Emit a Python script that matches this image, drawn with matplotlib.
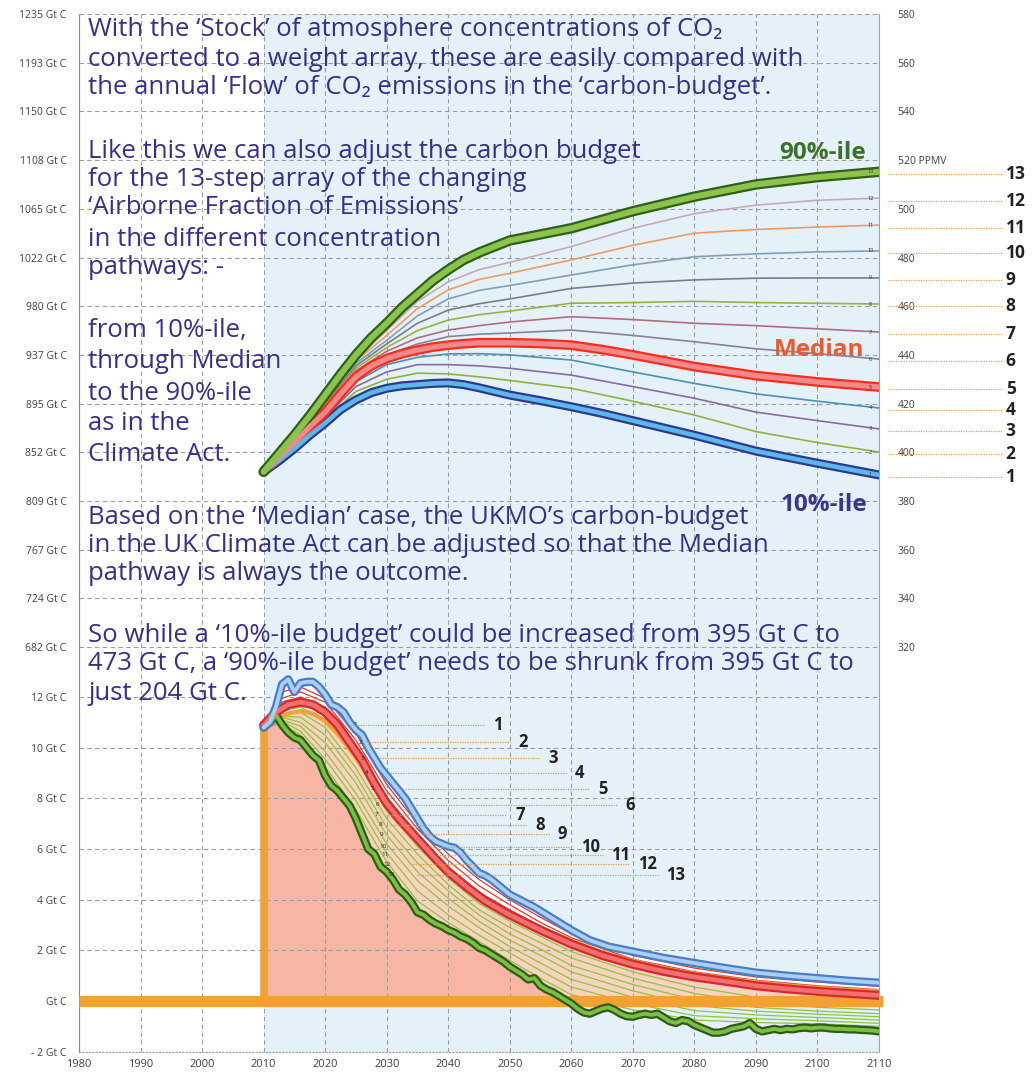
import matplotlib
matplotlib.use('Agg')
import matplotlib.pyplot as plt
import numpy as np
from matplotlib.lines import Line2D
from matplotlib.ticker import FuncFormatter

plt.rcParams['font.family'] = ['Open Sans', 'DejaVu Sans']

# ---- concentration pathways (ppmv), upper chart ----
conc_years_thick = [2010, 2012.5, 2015, 2017.5, 2020, 2022.5, 2025, 2027.5, 2030, 2032.5, 2035, 2037.5,
                    2040, 2042.5, 2045, 2050, 2055, 2060, 2065, 2070, 2080, 2090, 2100, 2110]
conc_p90 = [392, 399.5, 407, 415, 423.5, 432, 440, 447, 453, 459.5, 465, 470.5,
            475, 479, 482, 487, 489.5, 492, 495.5, 499, 505, 510, 513, 515.2]
conc_median = [392, 398, 404, 410.5, 416.5, 424, 431, 435.5, 438.5, 440.5, 442, 443.2,
               444, 444.6, 445, 445, 444.7, 444, 442.2, 440, 435.2, 431.5, 428.9, 426.8]
conc_p10 = [392, 396.5, 401.5, 407, 412, 417.5, 421.5, 424.5, 426.3, 427.3, 427.8, 428.3,
            428.5, 427.8, 426.5, 423.5, 421.2, 418.7, 416, 413, 407, 400.5, 395.5, 390.7]

conc_years = [2010, 2015, 2020, 2025, 2030, 2035, 2040, 2045, 2050, 2060, 2070, 2080, 2090, 2100, 2110]
conc_12 = [392, 406.5, 422.5, 438.5, 450, 462, 470, 475, 478, 484.5, 492, 498, 501.5, 503.5, 504.4]
conc_11 = [392, 406.3, 422, 437.5, 448, 459, 466.7, 471, 473.5, 479, 485, 490, 491.5, 492.5, 493.3]
conc_10 = [392, 406, 421.5, 436.5, 446, 456, 463, 466.5, 468.5, 472.8, 477, 480.3, 481.5, 482.3, 482.7]
conc_9 = [392, 405.7, 420.5, 435.5, 444.5, 453, 458.4, 461, 463, 467.3, 469.5, 470.8, 471.5, 471.6, 471.6]
conc_8 = [392, 405.3, 420, 434.5, 443, 450, 454.3, 456.5, 458, 461.2, 461.5, 462, 461.5, 461.2, 460.9]
conc_7 = [392, 405, 419, 433.5, 441.5, 447, 450.2, 452, 453.5, 455.7, 454.5, 453, 452, 450.7, 449.4]
conc_6 = [392, 404.5, 418, 432.5, 440, 444.5, 447.5, 448.5, 449, 450.2, 448, 445.4, 442.5, 440.5, 438.3]
conc_4 = [392, 403.5, 415.5, 429, 436, 439, 440.4, 440.5, 440, 437.9, 433, 428.3, 424, 421, 418.2]
conc_3 = [392, 403, 414.5, 427, 433, 436, 436, 435.5, 434.5, 431.7, 427, 422.2, 416.5, 413, 409.6]
conc_2 = [392, 402.3, 413.5, 425, 430, 432.5, 432.2, 431, 429.5, 426.3, 421, 415.3, 408.5, 404, 400.1]

# ---- annual emissions (Gt C), lower chart ----
em_p10_years = list(range(2010, 2051)) + [2052, 2054, 2056, 2058, 2060, 2063, 2066, 2070, 2075,
                                          2080, 2085, 2090, 2095, 2100, 2105, 2110]
em_p10 = [10.8, 11.0, 11.6, 12.5, 12.7, 12.2, 12.55, 12.6, 12.6, 12.4,
          12.1, 11.7, 11.6, 11.4, 11.0, 10.7, 10.5, 10.0, 9.6, 9.2,
          8.9, 8.6, 8.3, 8.0, 7.6, 7.2, 6.8, 6.5, 6.3, 6.2,
          6.1, 6.05, 5.85, 5.55, 5.3, 5.05, 4.95, 4.8, 4.6, 4.4,
          4.2, 3.95, 3.7, 3.4, 3.1, 2.8, 2.4, 2.15, 1.95, 1.7,
          1.5, 1.3, 1.12, 1.0, 0.9, 0.8, 0.72]

em_median_years = [2010, 2012, 2014, 2016, 2018, 2020, 2022, 2024, 2026, 2028, 2030, 2032, 2035, 2038, 2040,
                   2043, 2046, 2050, 2055, 2060, 2065, 2070, 2075, 2080, 2085, 2090, 2095, 2100, 2105, 2110]
em_median = [10.9, 11.4, 11.7, 11.8, 11.7, 11.4, 10.9, 10.2, 9.5, 8.6, 7.8, 7.2, 6.4, 5.6, 5.1,
             4.5, 3.95, 3.4, 2.8, 2.25, 1.8, 1.45, 1.17, 0.95, 0.78, 0.6, 0.48, 0.38, 0.3, 0.22]
em_budget = [10.8, 11.1, 11.35, 11.45, 11.35, 11.05, 10.55, 9.95, 9.25, 8.45, 7.75, 7.15, 6.4, 5.65, 5.15,
             4.6, 4.05, 3.5, 2.9, 2.38, 1.93, 1.58, 1.3, 1.07, 0.9, 0.74, 0.62, 0.52, 0.44, 0.38]

em_p90_years = list(range(2010, 2111))
em_p90 = [10.8, 11.0, 11.3, 10.9, 10.6, 10.4, 10.3, 10.0, 9.7, 9.5,
          8.9, 8.5, 8.3, 8.0, 7.7, 7.2, 6.6, 6.0, 5.8, 5.3,
          5.1, 4.8, 4.4, 4.2, 3.9, 3.5, 3.4, 3.2, 3.05, 2.95,
          2.8, 2.7, 2.55, 2.45, 2.3, 2.1, 2.0, 1.85, 1.7, 1.55,
          1.35, 1.2, 1.05, 0.85, 0.9, 0.6, 0.45, 0.35, 0.2, 0.05,
          -0.1, -0.3, -0.45, -0.5, -0.4, -0.3, -0.25, -0.35, -0.5, -0.6,
          -0.62, -0.55, -0.5, -0.55, -0.5, -0.65, -0.8, -0.87, -0.75, -0.8,
          -0.95, -1.05, -1.15, -1.25, -1.25, -1.2, -1.1, -1.05, -1.0, -0.87,
          -1.1, -1.2, -1.15, -1.1, -1.15, -1.1, -1.12, -1.07, -1.05, -1.08,
          -1.05, -1.05, -1.08, -1.1, -1.1, -1.12, -1.12, -1.14, -1.15, -1.17, -1.2]

em_thin_years = [2010, 2013, 2016, 2020, 2025, 2030, 2035, 2040, 2045, 2050, 2055, 2060, 2070, 2080, 2090, 2100, 2110]
em_2 = [10.85, 12.2, 12.4, 11.95, 10.55, 8.55, 7.0, 5.8, 4.8, 4.0, 3.3, 2.65, 1.8, 1.3, 0.95, 0.75, 0.58]
em_3 = [10.85, 11.95, 12.2, 11.8, 10.3, 8.3, 6.8, 5.55, 4.55, 3.8, 3.1, 2.5, 1.65, 1.15, 0.82, 0.6, 0.45]
em_4 = [10.9, 11.8, 12.0, 11.6, 10.1, 8.05, 6.6, 5.3, 4.3, 3.6, 2.95, 2.38, 1.55, 1.05, 0.7, 0.48, 0.33]
em_6 = [10.9, 11.45, 11.6, 11.1, 9.55, 7.5, 6.1, 4.85, 3.85, 3.15, 2.55, 1.95, 1.15, 0.55, 0.15, -0.05, -0.2]
em_7 = [10.9, 11.35, 11.4, 10.8, 9.2, 7.2, 5.8, 4.6, 3.6, 2.9, 2.3, 1.7, 0.9, 0.3, -0.08, -0.25, -0.35]
em_8 = [10.85, 11.25, 11.2, 10.5, 8.9, 6.85, 5.45, 4.35, 3.4, 2.65, 2.05, 1.4, 0.65, 0.05, -0.25, -0.4, -0.5]
em_9 = [10.85, 11.2, 11.0, 10.2, 8.6, 6.55, 5.1, 4.05, 3.15, 2.4, 1.8, 1.15, 0.4, -0.18, -0.4, -0.52, -0.62]
em_10 = [10.85, 11.1, 10.85, 9.85, 8.2, 6.2, 4.75, 3.75, 2.9, 2.15, 1.5, 0.85, 0.15, -0.38, -0.55, -0.65, -0.75]
em_11 = [10.8, 11.05, 10.65, 9.55, 7.9, 5.85, 4.35, 3.4, 2.6, 1.9, 1.2, 0.55, -0.1, -0.58, -0.7, -0.78, -0.88]
em_12 = [10.8, 10.95, 10.5, 9.25, 7.55, 5.5, 3.95, 3.1, 2.35, 1.6, 0.9, 0.25, -0.35, -0.75, -0.85, -0.9, -1.0]

ppmv_ticks = list(range(320, 581, 20))
gtc_ticks = list(range(-2, 13, 2))
year_ticks = list(range(1980, 2111, 10))
GTC_PER_PPMV = 2.13

W, H = 1034, 1073
TXT = '#35308a'
GRAY = '#404040'

fig = plt.figure(figsize=(W / 100, H / 100), dpi=100)
px_gt = 25.33
zero_px = 1001
top_px = 14
bot_px = zero_px + 2 * px_gt
rect = [79 / W, 1 - bot_px / H, 800 / W, (bot_px - top_px) / H]
ax = fig.add_axes(rect)
axc = fig.add_axes(rect, sharex=ax)
axc.set_facecolor('none')

ax.set_xlim(1980, 2110)
ax.set_ylim(-2, (zero_px - top_px) / px_gt)
axc.set_ylim(580 - (bot_px - top_px) / 2.435, 580)

gridkw = dict(color='#9c9c9c', linestyle=(0, (4, 3)), linewidth=0.8)
ax.set_xticks(year_ticks)
ax.set_yticks(gtc_ticks)
ax.set_axisbelow('line')
ax.grid(True, **gridkw)
axc.set_yticks(ppmv_ticks)
axc.grid(True, axis='y', **gridkw)
axc.tick_params(axis='x', bottom=False, labelbottom=False)

ax.yaxis.set_major_formatter(FuncFormatter(
    lambda v, p: 'Gt C' if v == 0 else ('- %d Gt C' % -v if v < 0 else '%d Gt C' % v)))
axc.yaxis.set_major_formatter(FuncFormatter(lambda v, p: '%d Gt C' % round(v * GTC_PER_PPMV)))
for a in (ax, axc):
    a.tick_params(axis='y', length=0, pad=9, labelsize=7.5, labelcolor=GRAY)
ax.tick_params(axis='x', length=0, pad=5, labelsize=8, labelcolor=GRAY)

sec = axc.secondary_yaxis('right')
sec.set_yticks(ppmv_ticks)
sec.yaxis.set_major_formatter(FuncFormatter(lambda v, p: '520 PPMV' if v == 520 else '%d' % v))
sec.tick_params(length=0, pad=13.5, labelsize=7.5, labelcolor=GRAY)
sec.spines['right'].set_visible(False)

ax.spines['top'].set_visible(False)
for s in axc.spines.values():
    s.set_visible(False)
ax.spines['left'].set_color('#8a8a8a')
ax.spines['right'].set_color('#9aa6b8')
ax.spines['bottom'].set_color('#9c9c9c')
ax.spines['bottom'].set_linestyle((0, (1, 2)))

ax.axvspan(2010, 2110, color='#e5f1f8', zorder=0.1, lw=0)


def thick(a, x, y, edge, face, lw=7.0, z=5):
    a.plot(x, y, color=edge, lw=lw, solid_capstyle='round', solid_joinstyle='round', zorder=z)
    a.plot(x, y, color=face, lw=lw - 3.2, solid_capstyle='round', solid_joinstyle='round', zorder=z + 0.1)


# ---- upper chart ----
thin_conc = [(conc_2, '#8db33a'), (conc_3, '#8a6aa0'), (conc_4, '#4a90b8'),
             (conc_6, '#8a7f9c'), (conc_7, '#b56a7f'), (conc_8, '#9cb040'),
             (conc_9, '#7d7a88'), (conc_10, '#7f9fb8'), (conc_11, '#ee9a60'),
             (conc_12, '#c8a8b8')]
for ys, c in thin_conc:
    axc.plot(conc_years, ys, color=c, lw=1.2, zorder=3)
thick(axc, conc_years_thick, conc_p10, '#2b3a8f', '#5bb8e8', 6.5)
thick(axc, conc_years_thick, conc_median, '#ff2a1a', '#f08a8a', 7.0)
thick(axc, conc_years_thick, conc_p90, '#2f5f1a', '#8cc34a', 7.5)

ends = [(conc_p10[-1], '1'), (conc_2[-1], '2'), (conc_3[-1], '3'), (conc_4[-1], '4'),
        (conc_median[-1], '5'), (conc_6[-1], '6'), (conc_7[-1], '7'), (conc_8[-1], '8'),
        (conc_9[-1], '9'), (conc_10[-1], '10'), (conc_11[-1], '11'), (conc_12[-1], '12'),
        (conc_p90[-1], '13')]
for v, lab in ends:
    axc.text(2108.6, v, lab, fontsize=4, color='#333333', ha='center', va='center', zorder=8)
    axc.plot([2111.5, 2130.2], [v - 1, v - 1], color='#eaa040', lw=0.9, ls=(0, (1, 1)),
             clip_on=False, zorder=3)
    axc.text(2130.6, v - 1, lab, fontsize=12.5, fontweight='bold', color='#222222',
             ha='left', va='center', clip_on=False)

# ---- lower chart ----
g_pos = np.clip(em_p90, 0, None)
ax.fill_between(em_p90_years, 0, g_pos, color='#f7b6a4', lw=0, zorder=1)
ax.fill(list(em_median_years) + em_p90_years[::-1], list(em_budget) + list(g_pos[::-1]),
        color='#f9d3bf', lw=0, zorder=1)
ax.fill(em_p10_years + em_median_years[::-1], em_p10 + em_median[::-1],
        color='#fbfdfe', lw=0, zorder=1)

for ys in (em_6, em_7, em_8, em_9, em_10, em_11, em_12):
    ax.plot(em_thin_years, ys, color='#8cc63f', lw=0.9, zorder=3)
for ys in (em_2, em_3, em_4):
    ax.plot(em_thin_years, ys, color='#e03a30', lw=0.9, zorder=3)

ax.plot([1980, 2110.6], [0, 0], color='#f2a232', lw=8, solid_capstyle='butt', zorder=3.5, clip_on=False)
ax.plot([2010, 2010], [0, em_budget[0]], color='#f2a232', lw=5.5, solid_capstyle='butt', zorder=3.5)
ax.plot(em_median_years, em_budget, color='#f2a232', lw=3, zorder=4)

thick(ax, em_p90_years, em_p90, '#2f5a1a', '#7bc043', 6.0)
thick(ax, em_median_years, em_median, '#d8282a', '#f07070', 6.5)
thick(ax, em_p10_years, em_p10, '#4a7cc8', '#a8d0f0', 6.0)

# leader labels of the lower chart (figure pixel positions)
em_leaders = [('1', 355, 350, 485, 725), ('2', 360, 367, 510, 742), ('3', 362, 380, 540, 758),
              ('4', 367, 390, 567, 773), ('5', 372, 400, 590, 789), ('6', 377, 413, 617, 805),
              ('7', 377, 387, 507, 815), ('8', 380, 390, 527, 825), ('9', 381, 423, 550, 834),
              ('10', 383, 423, 573, 847), ('11', 385, 437, 603, 855), ('12', 387, 410, 630, 864),
              ('13', 391, 417, 658, 875)]
for lab, tx, xa, xb, yy in em_leaders:
    fy = 1 - yy / H
    fig.add_artist(Line2D([xa / W, xb / W], [fy, fy], color='#e09a40', lw=0.9, ls=(0, (1, 1)),
                          transform=fig.transFigure, zorder=6))
    fig.text(tx / W, fy, lab, fontsize=4.5, color='#222222', ha='center', va='center')
    fig.text((xb + 8) / W, fy, lab, fontsize=12, fontweight='bold', color='#222222',
             ha='left', va='center')

# ---- explanatory text ----
lines = [
    ("With the \u2018Stock\u2019 of atmosphere concentrations of CO\u2082", 30),
    ("converted to a weight array, these are easily compared with", 60),
    ("the annual \u2018Flow\u2019 of CO\u2082 emissions in the \u2018carbon-budget\u2019.", 88),
    ("Like this we can also adjust the carbon budget", 152),
    ("for the 13-step array of the changing", 180),
    ("\u2018Airborne Fraction of Emissions\u2019", 208),
    ("in the different concentration", 240),
    ("pathways: -", 268),
    ("from 10%-ile,", 330),
    ("through Median", 362),
    ("to the 90%-ile", 393),
    ("as in the", 423),
    ("Climate Act.", 455),
    ("Based on the \u2018Median\u2019 case, the UKMO\u2019s carbon-budget", 517),
    ("in the UK Climate Act can be adjusted so that the Median", 546),
    ("pathway is always the outcome.", 574),
    ("So while a \u201810%-ile budget\u2019 could be increased from 395 Gt C to", 636),
    ("473 Gt C, a \u201890%-ile budget\u2019 needs to be shrunk from 395 Gt C to", 664),
    ("just 204 Gt C.", 693),
]
for s, y in lines:
    fig.text(88 / W, 1 - y / H, s, fontsize=18.5, color=TXT, ha='left', va='center', zorder=10)

fig.text(823 / W, 1 - 153 / H, '90%-ile', fontsize=17.5, fontweight='bold', color='#3d7028',
         ha='center', va='center')
fig.text(819 / W, 1 - 350 / H, 'Median', fontsize=17.5, fontweight='bold', color='#f05a2a',
         ha='center', va='center')
fig.text(824 / W, 1 - 505 / H, '10%-ile', fontsize=17.5, fontweight='bold', color='#3a3590',
         ha='center', va='center')

fig.savefig('out.png', dpi=100, facecolor='white')
